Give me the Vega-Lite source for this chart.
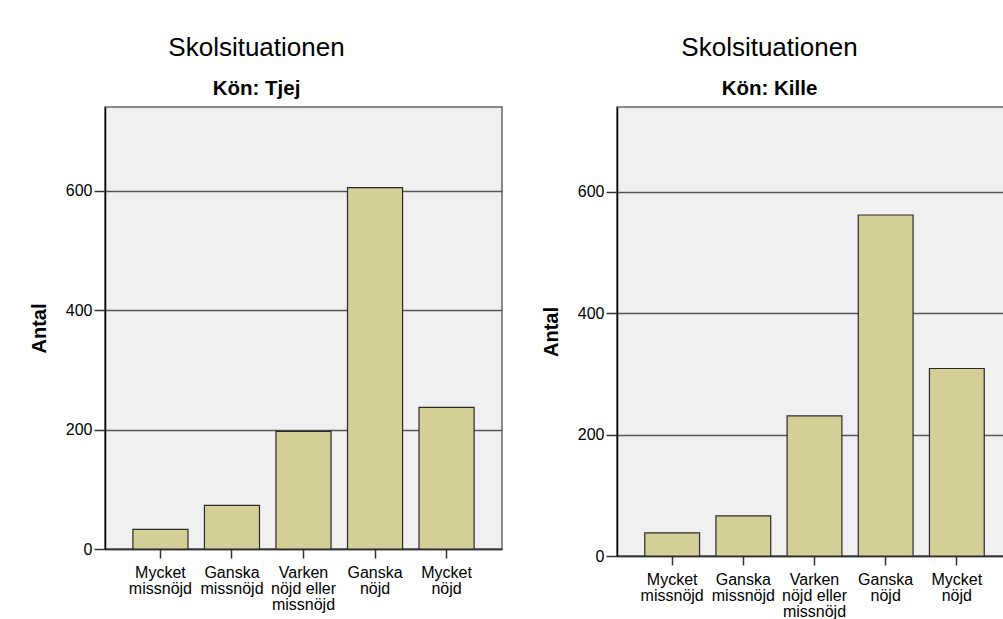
{
  "$schema": "https://vega.github.io/schema/vega-lite/v6.json",
  "padding": {"left": 28, "top": 33, "right": 0, "bottom": 0},
  "background": "#ffffff",
  "data": {
    "values": [
      {"kon": "Tjej", "svar": "Mycket missnöjd", "antal": 33},
      {"kon": "Tjej", "svar": "Ganska missnöjd", "antal": 73},
      {"kon": "Tjej", "svar": "Varken nöjd eller missnöjd", "antal": 197},
      {"kon": "Tjej", "svar": "Ganska nöjd", "antal": 605},
      {"kon": "Tjej", "svar": "Mycket nöjd", "antal": 237},
      {"kon": "Kille", "svar": "Mycket missnöjd", "antal": 38},
      {"kon": "Kille", "svar": "Ganska missnöjd", "antal": 66},
      {"kon": "Kille", "svar": "Varken nöjd eller missnöjd", "antal": 231},
      {"kon": "Kille", "svar": "Ganska nöjd", "antal": 562},
      {"kon": "Kille", "svar": "Mycket nöjd", "antal": 309}
    ]
  },
  "spacing": 37,
  "hconcat": [
    {
      "width": 397,
      "height": 442,
      "title": {"text": "Skolsituationen", "subtitle": "Kön: Tjej", "dx": -47, "offset": 8},
      "transform": [{"filter": "datum.kon == 'Tjej'"}],
      "mark": {"type": "bar", "fill": "#d3cf97", "stroke": "#2a2a2a", "strokeWidth": 1.2},
      "encoding": {
        "x": {"field": "svar", "type": "nominal", "sort": null, "scale": {"paddingInner": 0.23, "paddingOuter": 0.39}, "axis": {"title": null}},
        "y": {"field": "antal", "type": "quantitative", "scale": {"domain": [0, 740], "nice": false}, "axis": {"title": "Antal", "values": [0, 200, 400, 600]}}
      }
    },
    {
      "width": 395,
      "height": 449,
      "title": {"text": "Skolsituationen", "subtitle": "Kön: Kille", "dx": -45, "offset": 8},
      "transform": [{"filter": "datum.kon == 'Kille'"}],
      "mark": {"type": "bar", "fill": "#d3cf97", "stroke": "#2a2a2a", "strokeWidth": 1.2},
      "encoding": {
        "x": {"field": "svar", "type": "nominal", "sort": null, "scale": {"paddingInner": 0.23, "paddingOuter": 0.39}, "axis": {"title": null}},
        "y": {"field": "antal", "type": "quantitative", "scale": {"domain": [0, 740], "nice": false}, "axis": {"title": "Antal", "values": [0, 200, 400, 600]}}
      }
    }
  ],
  "config": {
    "font": "Liberation Sans",
    "view": {"fill": "#f0f0f0", "stroke": "#666666", "strokeWidth": 1.5},
    "title": {"fontSize": 26, "fontWeight": "normal", "color": "#000000", "subtitleFontSize": 20.5, "subtitleFontWeight": "bold", "subtitleColor": "#000000", "subtitlePadding": 18, "anchor": "middle", "frame": "group"},
    "axisY": {
      "grid": true, "gridColor": "#555555", "gridWidth": 1.5,
      "domainColor": "#000000", "domainWidth": 1.5,
      "tickColor": "#333333", "tickWidth": 1.5, "tickSize": 11,
      "labelFontSize": 16, "labelColor": "#000000", "labelPadding": 2,
      "titleFontSize": 20, "titleFontWeight": "bold", "titleColor": "#000000", "titlePadding": 16
    },
    "axisX": {
      "labelAngle": 0,
      "labelExpr": "datum.label == 'Varken nöjd eller missnöjd' ? ['Varken', 'nöjd eller', 'missnöjd'] : split(datum.label, ' ')",
      "labelFontSize": 16, "labelColor": "#000000", "labelLineHeight": 16, "labelPadding": 6, "labelBaseline": "top",
      "domainColor": "#333333", "domainWidth": 1.5,
      "tickColor": "#333333", "tickWidth": 1.5, "tickSize": 9,
      "grid": false
    }
  }
}
